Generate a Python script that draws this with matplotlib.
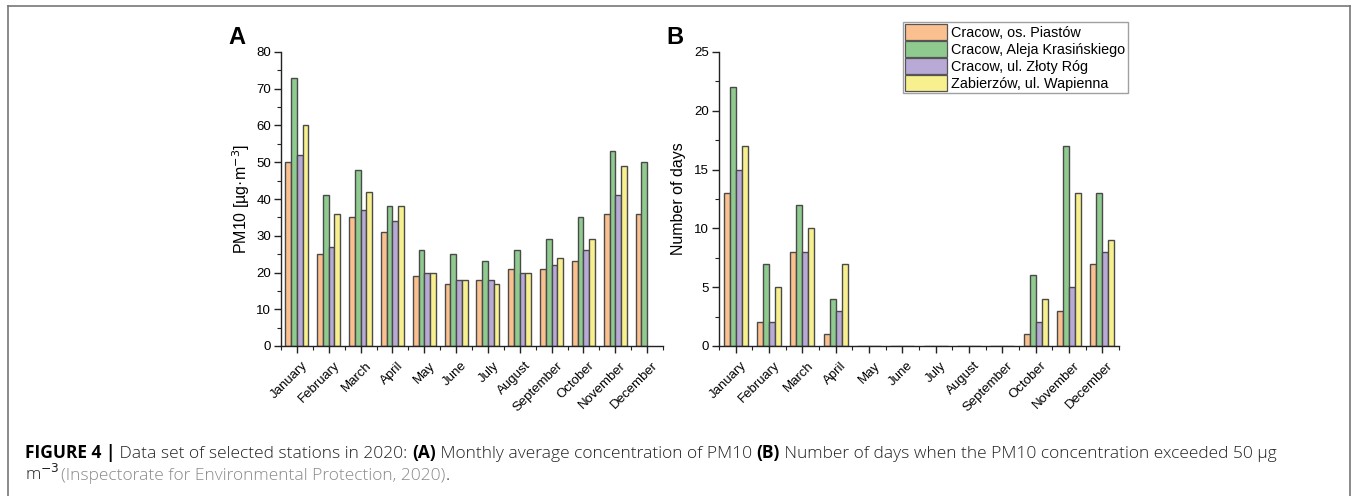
import numpy as np
import matplotlib
matplotlib.use("Agg")
import matplotlib.pyplot as plt
from matplotlib.patches import Patch, Rectangle
from matplotlib.lines import Line2D
from matplotlib.transforms import ScaledTranslation
from matplotlib.ticker import MultipleLocator

plt.rcParams['font.family'] = ['Liberation Sans', 'DejaVu Sans']

months = ["January", "February", "March", "April", "May", "June", "July",
          "August", "September", "October", "November", "December"]
stations = ["Cracow, os. Piastów", "Cracow, Aleja Krasińskiego",
            "Cracow, ul. Złoty Róg", "Zabierzów, ul. Wapienna"]
colors = ["#FBC08F", "#8FCB8F", "#B8A9D6", "#F8F08E"]

# Panel A: monthly average PM10 [µg·m-3]
pm_piastow = [50, 25, 35, 31, 19, 17, 18, 21, 21, 23, 36, 36]
pm_krasinskiego = [73, 41, 48, 38, 26, 25, 23, 26, 29, 35, 53, 50]
pm_zloty = [52, 27, 37, 34, 20, 18, 18, 20, 22, 26, 41, np.nan]
pm_zabierzow = [60, 36, 42, 38, 20, 18, 17, 20, 24, 29, 49, np.nan]

# Panel B: number of days exceeding 50 µg m-3
d_piastow = [13, 2, 8, 1, 0, 0, 0, 0, 0, 1, 3, 7]
d_krasinskiego = [22, 7, 12, 4, 0, 0, 0, 0, 0, 6, 17, 13]
d_zloty = [15, 2, 8, 3, 0, 0, 0, 0, 0, 2, 5, 8]
d_zabierzow = [17, 5, 10, 7, 0, 0, 0, 0, 0, 4, 13, 9]

W, H = 1356, 496
fig = plt.figure(figsize=(W / 100, H / 100), dpi=100)


def px_axes(l, r, t, b):
    return fig.add_axes([l / W, (H - b) / H, (r - l) / W, (b - t) / H])


def style(ax, ymax, ymaj, ymin):
    for s in ("top", "right"):
        ax.spines[s].set_visible(False)
    for s in ("left", "bottom"):
        ax.spines[s].set_linewidth(1.0)
        ax.spines[s].set_color("#222222")
    ax.set_ylim(0, ymax)
    ax.yaxis.set_major_locator(MultipleLocator(ymaj))
    ax.yaxis.set_minor_locator(MultipleLocator(ymin))
    ax.set_xticks(range(len(months)))
    ax.set_xticks(np.arange(-0.5, len(months), 1.0), minor=True)
    ax.tick_params(axis="both", which="major", direction="out", length=5,
                   width=1, color="#222222", labelsize=9.5, pad=2)
    ax.tick_params(axis="both", which="minor", direction="out", length=3,
                   width=0.8, color="#222222")
    labels = ax.set_xticklabels(months, rotation=45, ha="right", va="center",
                                rotation_mode="anchor")
    off = ScaledTranslation(9 / 100, -8 / 100, fig.dpi_scale_trans)
    for lab in labels:
        lab.set_transform(lab.get_transform() + off)


def bars(ax, series):
    x = np.arange(len(months))
    w = 0.18
    for i, (vals, c) in enumerate(zip(series, colors)):
        ax.bar(x + (i - 1.5) * w, vals, width=w, color=c, edgecolor="#4a4a4a",
               linewidth=1.0)


axA = px_axes(281, 663, 52, 346)
bars(axA, [pm_piastow, pm_krasinskiego, pm_zloty, pm_zabierzow])
axA.set_xlim(-0.5, 11)
style(axA, 80, 10, 5)
axA.set_ylabel("PM10 [µg·m$^{-3}$]", fontsize=11.5, labelpad=3)

axB = px_axes(719, 1119, 52, 346)
bars(axB, [d_piastow, d_krasinskiego, d_zloty, d_zabierzow])
axB.set_xlim(-0.5, 11.5)
style(axB, 25, 5, 2.5)
axB.set_ylabel("Number of days", fontsize=11.5, labelpad=6)

# panel A's last tick label is cut off at the panel edge
fig.add_artist(Rectangle(((665) / W, (H - 430) / H), 25 / W, 80 / H,
                         transform=fig.transFigure, facecolor="white",
                         edgecolor="none", zorder=10))

fig.text(237 / W, 1 - 38 / H, "A", fontsize=17, fontweight="bold",
         ha="center", va="center")
fig.text(675 / W, 1 - 38 / H, "B", fontsize=17, fontweight="bold",
         ha="center", va="center")

handles = [Patch(facecolor=c, edgecolor="#555555", linewidth=0.9) for c in colors]
leg = fig.legend(handles, stations, loc="upper left",
                 bbox_to_anchor=(903 / W, 1 - 22 / H), fontsize=10.4,
                 frameon=True, fancybox=False, edgecolor="#888888",
                 borderpad=0.15, labelspacing=0.08, handlelength=2.9,
                 handleheight=1.3, handletextpad=0.3, borderaxespad=0)
leg.get_frame().set_linewidth(1.0)

# outer frame
frame_kw = dict(color="#777777", linewidth=1.2, transform=fig.transFigure)
fig.add_artist(Line2D([8 / W, 8 / W], [0, 1 - 6 / H], **frame_kw))
fig.add_artist(Line2D([8 / W, 1350 / W], [1 - 6 / H, 1 - 6 / H], **frame_kw))
fig.add_artist(Line2D([1350 / W, 1350 / W], [0, 1 - 6 / H], **frame_kw))

# caption
fig.canvas.draw()
renderer = fig.canvas.get_renderer()
cap_family = ['Open Sans', 'DejaVu Sans']


def line_pieces(x0, y, pieces, size):
    x = x0
    arts = []
    for txt, kw in pieces:
        t = fig.text(x / W, 1 - y / H, txt, fontsize=size, va="baseline",
                     ha="left", family=cap_family, **kw)
        bb = t.get_window_extent(renderer)
        x = bb.x1
        arts.append(t)
    return x, arts


line1 = [
    ("FIGURE 4 |", dict(fontweight="bold")),
    (" Data set of selected stations in 2020: ", dict(color="#222222", fontweight="light")),
    ("(A)", dict(fontweight="bold")),
    (" Monthly average concentration of PM10 ", dict(color="#222222", fontweight="light")),
    ("(B)", dict(fontweight="bold")),
    (" Number of days when the PM10 concentration exceeded 50 µg",
     dict(color="#222222", fontweight="light")),
]
x_end, arts = line_pieces(25, 458, line1, 10)
for a in arts:
    a.remove()
size = 10 * (1278 - 25) / (x_end - 25)
line_pieces(25, 458, line1, size)
line_pieces(25, 480, [
    ("m$^{-3}$ ", dict(color="#222222", fontweight="light")),
    ("(Inspectorate for Environmental Protection, 2020)",
     dict(color="#8a8a8a", fontweight="light")),
    (".", dict(color="#222222", fontweight="light")),
], size)

fig.savefig("out.png", dpi=100)
